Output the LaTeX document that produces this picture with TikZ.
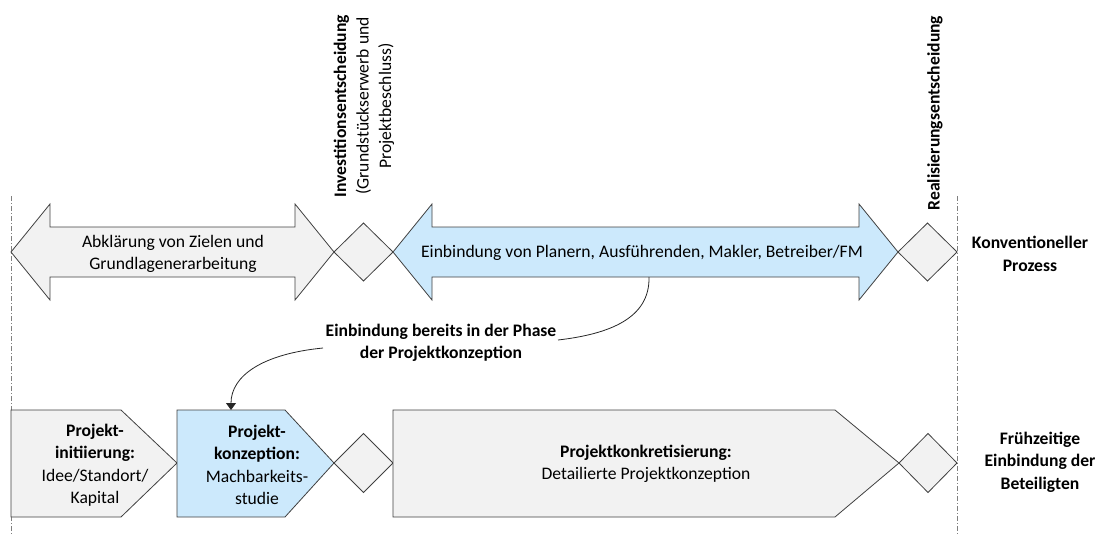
\documentclass[tikz,border=0pt]{standalone}
\usepackage{fontspec}
\setmainfont{Carlito}
\usetikzlibrary{arrows.meta}
\definecolor{shapegray}{RGB}{242,242,242}
\definecolor{shapeblue}{RGB}{204,233,252}
\definecolor{edgegray}{RGB}{64,64,64}
\begin{document}
\begin{tikzpicture}[x=1pt,y=-1pt,
  outlined/.style={draw=edgegray,line width=0.8pt,line join=miter},
  grayshape/.style={outlined,fill=shapegray},
  blueshape/.style={outlined,fill=shapeblue},
  lbl/.style={font=\fontsize{17.6}{22.5}\selectfont,align=center,inner sep=0pt},
  boldlbl/.style={lbl,font=\fontsize{17.6}{22.5}\selectfont\bfseries},
  sideline/.style={draw=gray,line width=0.8pt,dash pattern=on 5pt off 2pt on 1pt off 2pt},
  link/.style={draw=black!85,line width=0.8pt}]
\useasboundingbox (0,0) rectangle (1098,535);

% phase boundaries
\draw[sideline] (11,196) -- (11,535);
\draw[sideline] (957,196) -- (957,535);

% conventional process
\draw[grayshape] (11,252) -- (50,204) -- (50,227) -- (295,227) -- (295,204) -- (334,252)
  -- (295,300) -- (295,277) -- (50,277) -- (50,300) -- cycle;
\draw[grayshape] (334,252) -- (363.5,223) -- (393,252) -- (363.5,281) -- cycle;
\draw[blueshape] (393,252) -- (432,204) -- (432,227) -- (859,227) -- (859,204) -- (898,252)
  -- (859,300) -- (859,277) -- (432,277) -- (432,300) -- cycle;
\draw[grayshape] (898,252) -- (927.5,223) -- (957,252) -- (927.5,281) -- cycle;

\node[lbl] (abkl) at (173,254) {Abklärung von Zielen und\\Grundlagenerarbeitung};
\node[lbl] (einb) at (642,253) {Einbindung von Planern, Ausführenden, Makler, Betreiber/FM};
\node[lbl,rotate=90] (invest) at (364,106) {\textbf{Investitionsentscheidung}\\(Grundstückserwerb und\\Projektbeschluss)};
\node[boldlbl,rotate=90] (real) at (935,113) {Realisierungsentscheidung};
\node[boldlbl] (konv) at (1030,254) {Konventioneller\\Prozess};

% early involvement
\draw[grayshape] (11,410) -- (121,410) -- (177,463) -- (121,517) -- (11,517) -- cycle;
\draw[blueshape] (177,410) -- (285,410) -- (334,463) -- (285,517) -- (177,517) -- cycle;
\draw[grayshape] (334,463) -- (363.5,433.5) -- (393,463) -- (363.5,492.5) -- cycle;
\draw[grayshape] (393,410) -- (835,410) -- (899,463) -- (835,517) -- (393,517) -- cycle;
\draw[grayshape] (899,463) -- (928,433.5) -- (957,463) -- (928,492.5) -- cycle;

\node[lbl] (init) at (95,465) {\textbf{Projekt-}\\\textbf{initiierung:}\\Idee/Standort/\\Kapital};
\node[lbl] (konz) at (257,465) {\textbf{Projekt-}\\\textbf{konzeption:}\\Machbarkeits-\\studie};
\node[lbl] (konkr) at (646,464) {\textbf{Projektkonkretisierung:}\\Detailierte Projektkonzeption};
\node[boldlbl] (frueh) at (1040,462) {Frühzeitige\\Einbindung der\\Beteiligten};

% hint with connectors
\node[boldlbl] (hint) at (441,343) {Einbindung bereits in der Phase\\der Projektkonzeption};
\coordinate (einbfoot) at (649,277);
\coordinate (hintend) at (558,340);
\coordinate (hintstart) at (323,348);
\coordinate (konztop) at (231,410);
\draw[link] (einbfoot) .. controls (650,318) and (610,334) .. (hintend);
\draw[link,-{Triangle[length=7pt,width=10pt]}] (hintstart) .. controls (262,354) and (231,376) .. (konztop);
\end{tikzpicture}
\end{document}
